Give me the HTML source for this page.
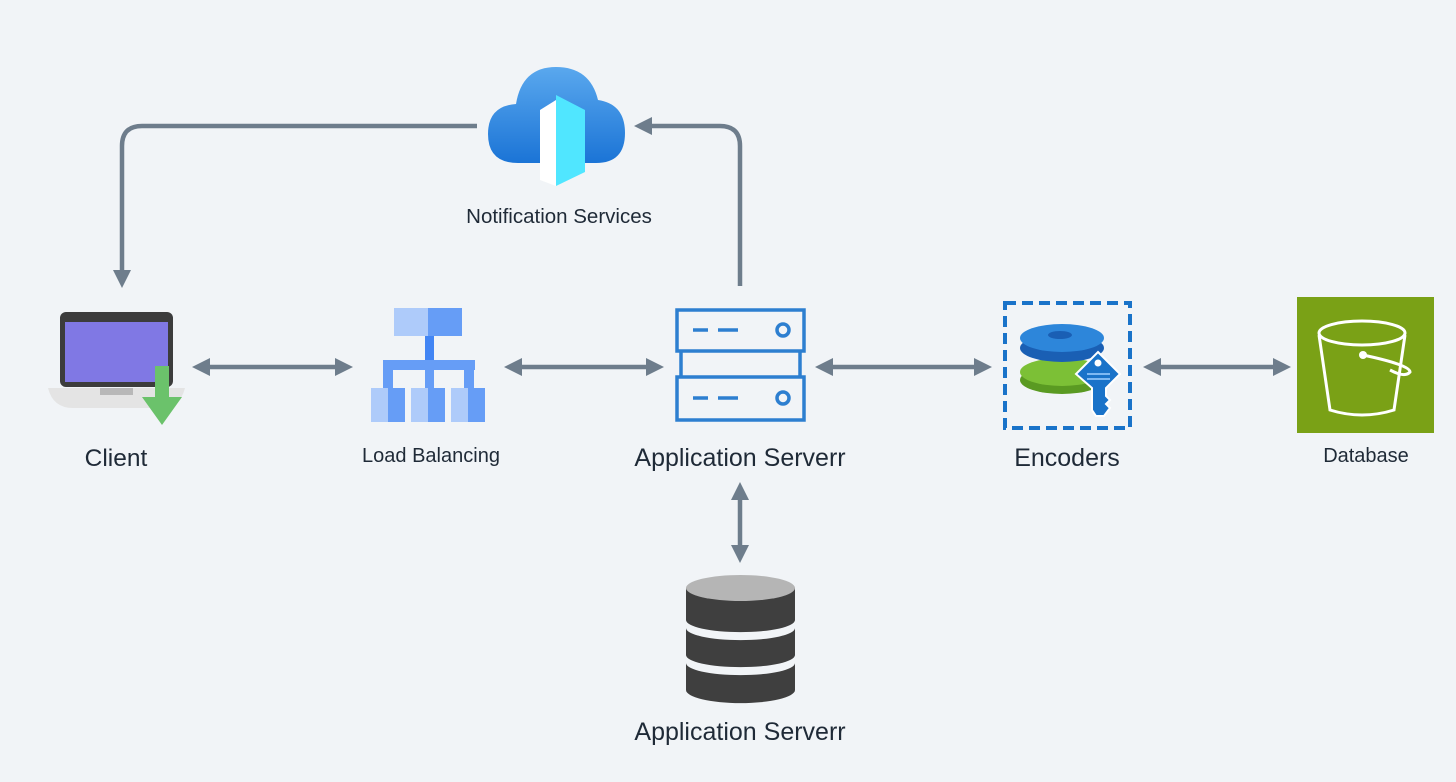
<!DOCTYPE html>
<html><head><meta charset="utf-8"><style>
html,body{margin:0;padding:0;background:#f1f4f7;}
svg{display:block}
text{font-family:"Liberation Sans",sans-serif;fill:#1f2a37;text-anchor:middle}
</style></head><body>
<svg width="1456" height="782" viewBox="0 0 1456 782" xmlns="http://www.w3.org/2000/svg">
<rect width="1456" height="782" fill="#f1f4f7"/>
<defs>
<marker id="a" markerWidth="4" markerHeight="4" refX="2" refY="2" orient="auto-start-reverse" markerUnits="strokeWidth">
<path d="M0,0 L4,2 L0,4 z" fill="#6e7d8c"/></marker>
<linearGradient id="cg" x1="0" y1="0" x2="0" y2="1"><stop offset="0" stop-color="#5aa8ee"/><stop offset="1" stop-color="#1b74d6"/></linearGradient>
</defs>
<g stroke="#6e7d8c" stroke-width="4.5" fill="none">
<path d="M477,126 H142 Q122,126 122,146 V279" marker-end="url(#a)"/>
<path d="M740,286 V146 Q740,126 720,126 H643" marker-end="url(#a)"/>
<path d="M201,367 H344" marker-start="url(#a)" marker-end="url(#a)"/>
<path d="M513,367 H655" marker-start="url(#a)" marker-end="url(#a)"/>
<path d="M824,367 H983" marker-start="url(#a)" marker-end="url(#a)"/>
<path d="M1152,367 H1282" marker-start="url(#a)" marker-end="url(#a)"/>
<path d="M740,491 V554" marker-start="url(#a)" marker-end="url(#a)"/>
</g>
<!-- cloud -->
<path d="M518,163 Q488,163 488,134 Q488,106 516,104 Q522,67 556,67 Q590,67 598,100 Q625,104 625,133 Q625,163 596,163 Z" fill="url(#cg)"/>
<path d="M540,110 L556,100 L556,186 L540,180 Z" fill="#fff"/>
<path d="M556,95 L585,110 L585,172 L556,186 Z" fill="#50e6ff"/>
<!-- laptop -->
<rect x="60" y="312" width="113" height="75" rx="6" fill="#3c3c3c"/>
<rect x="65" y="322" width="103" height="60" fill="#8078e4"/>
<path d="M48,388 H185 Q180,408 160,408 H73 Q53,408 48,388 Z" fill="#e4e4e4"/>
<rect x="100" y="388" width="33" height="7" fill="#b8b8b8"/>
<rect x="155" y="366" width="14" height="32" fill="#6bc26b"/>
<path d="M142,397 H182 L162,425 Z" fill="#6bc26b"/>
<!-- load balancer -->
<rect x="394" y="308" width="34" height="28" fill="#aecbfa"/>
<rect x="428" y="308" width="34" height="28" fill="#669df6"/>
<rect x="425" y="336" width="9" height="25" fill="#4285f4"/>
<rect x="383" y="360" width="92" height="10" fill="#669df6"/>
<rect x="383" y="360" width="10" height="28" fill="#669df6"/>
<rect x="425" y="360" width="9" height="28" fill="#669df6"/>
<rect x="464" y="360" width="10" height="28" fill="#669df6"/>
<g><rect x="371" y="388" width="17" height="34" fill="#aecbfa"/><rect x="388" y="388" width="17" height="34" fill="#669df6"/>
<rect x="411" y="388" width="17" height="34" fill="#aecbfa"/><rect x="428" y="388" width="17" height="34" fill="#669df6"/>
<rect x="451" y="388" width="17" height="34" fill="#aecbfa"/><rect x="468" y="388" width="17" height="34" fill="#669df6"/></g>
<!-- server -->
<g stroke="#2d7fd0" stroke-width="3.5" fill="none">
<rect x="677" y="310" width="127" height="41"/>
<rect x="677" y="377" width="127" height="43"/>
<path d="M681,351 V377 M800,351 V377"/>
<path d="M693,330 H708 M718,330 H738 M693,398 H708 M718,398 H738"/>
<circle cx="783" cy="330" r="6"/><circle cx="783" cy="398" r="6"/>
</g>
<!-- encoders -->
<rect x="1005" y="303" width="125" height="125" fill="none" stroke="#1a73c9" stroke-width="4" stroke-dasharray="11,6"/>
<ellipse cx="1062" cy="380" rx="42" ry="14" fill="#5a9a22"/>
<ellipse cx="1062" cy="372" rx="42" ry="14" fill="#7cc036"/>
<ellipse cx="1062" cy="348" rx="42" ry="14" fill="#1a5fb4"/>
<ellipse cx="1062" cy="338" rx="42" ry="14" fill="#2d86da"/>
<ellipse cx="1060" cy="335" rx="12" ry="4" fill="#1a5fb4"/>
<path d="M1098,352 L1120,374 L1106,388 L1106,396 L1110,400 L1106,404 L1110,408 L1104,416 L1096,416 L1092,410 L1092,388 L1076,374 Z" fill="#1a73c9" stroke="#fff" stroke-width="2"/>
<circle cx="1098" cy="363" r="3.5" fill="#fff"/>
<path d="M1087,374 H1110 M1087,379 H1110" stroke="#9fd0ff" stroke-width="1.5"/>
<!-- database green -->
<rect x="1297" y="297" width="137" height="136" fill="#7aa116"/>
<g stroke="#fff" stroke-width="3" fill="none">
<ellipse cx="1362" cy="333" rx="43" ry="12"/>
<path d="M1319,335 L1330,410 Q1362,420 1394,410 L1405,335"/>
<path d="M1363,355 Q1410,365 1410,372 Q1405,378 1390,370"/>
</g>
<circle cx="1363" cy="355" r="4" fill="#fff"/>
<!-- db cylinder -->
<g fill="#3f3f3f">
<path d="M686,588 V620 A54,12 0 0 0 795,620 V588 Z"/>
<path d="M686,628 V655 A54,12 0 0 0 795,655 V628 A54,12 0 0 1 686,628 Z"/>
<path d="M686,663 V690 A54,13 0 0 0 795,690 V663 A54,12 0 0 1 686,663 Z"/>
</g>
<ellipse cx="740.5" cy="588" rx="54.5" ry="13" fill="#b5b5b5"/>
<!-- labels -->
<text x="559" y="223" font-size="20.5">Notification Services</text>
<text x="116" y="466" font-size="24.5">Client</text>
<text x="431" y="462" font-size="20">Load Balancing</text>
<text x="740" y="466" font-size="25">Application Serverr</text>
<text x="1067" y="466" font-size="25">Encoders</text>
<text x="1366" y="462" font-size="20">Database</text>
<text x="740" y="740" font-size="25">Application Serverr</text>
</svg>
</body></html>
